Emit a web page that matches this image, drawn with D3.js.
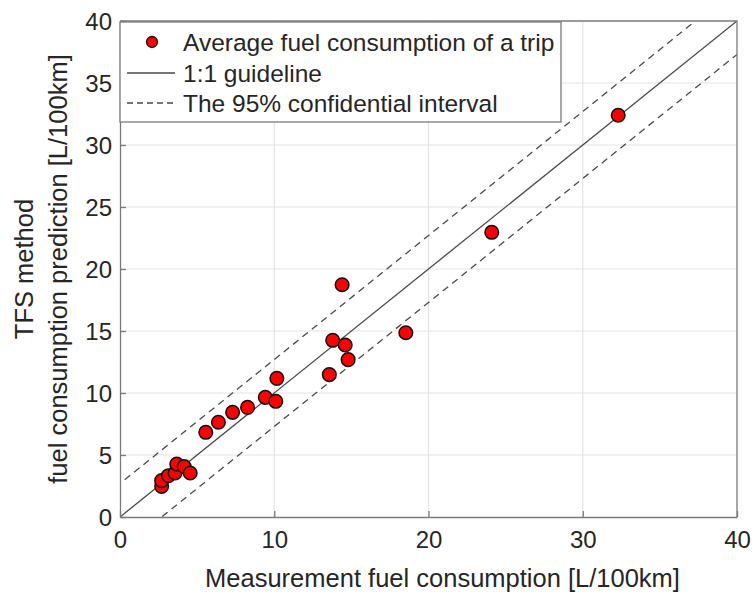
<!DOCTYPE html>
<html>
<head>
<meta charset="utf-8">
<script src="https://cdn.jsdelivr.net/npm/d3@7"></script>
<style>
  body { margin: 0; background: #fff; }
  text { font-family: 'Liberation Sans', Arial, sans-serif; fill: #262626; }
</style>
</head>
<body>
<svg id="viz"></svg>
<script>
const width = 756
const height = 593

// measured vs predicted fuel consumption per trip [L/100km]
const measured = [2.7, 2.7, 3.14, 3.57, 3.68, 4.16, 4.55, 5.56, 6.38, 7.3, 8.27, 9.42, 10.1, 10.17, 13.57, 13.79, 14.4, 14.6, 14.79, 18.53, 24.1, 32.3]
const predicted = [2.47, 2.93, 3.33, 3.55, 4.27, 4.06, 3.55, 6.83, 7.64, 8.44, 8.84, 9.65, 9.33, 11.18, 11.48, 14.25, 18.73, 13.87, 12.69, 14.86, 22.96, 32.4]
const xTicks = [0, 10, 20, 30, 40]
const yTicks = [0, 5, 10, 15, 20, 25, 30, 35, 40]
const ciOffset = 2.7
const legendLabels = ['Average fuel consumption of a trip', '1:1 guideline', 'The 95% confidential interval']

const margin = { top: 21, left: 120, right: 19, bottom: 76 }

const x = d3.scaleLinear().domain([0, 40]).range([margin.left, width - margin.right])
const y = d3.scaleLinear().domain([0, 40]).range([height - margin.bottom, margin.top])

const svg = d3.select('#viz').attr('width', width).attr('height', height)

svg.append('defs').append('clipPath').attr('id', 'clip')
  .append('rect')
  .attr('x', x(0)).attr('y', y(40))
  .attr('width', x(40) - x(0)).attr('height', y(0) - y(40))

// grid
const grid = svg.append('g').attr('class', 'grid')
grid.selectAll('.gx')
  .data(xTicks.slice(1, -1))
  .join('line')
  .attr('x1', (d) => x(d)).attr('x2', (d) => x(d))
  .attr('y1', y(0)).attr('y2', y(40))
  .attr('stroke', '#e3e3e3').attr('stroke-width', 1.2)
grid.selectAll('.gy')
  .data(yTicks.slice(1, -1))
  .join('line')
  .attr('y1', (d) => y(d)).attr('y2', (d) => y(d))
  .attr('x1', x(0)).attr('x2', x(40))
  .attr('stroke', '#e3e3e3').attr('stroke-width', 1.2)

// guide lines
const guides = svg.append('g').attr('clip-path', 'url(#clip)')
const lineData = [
  { off: 0, dash: null },
  { off: ciOffset, dash: '7,5' },
  { off: -ciOffset, dash: '7,5' }
]
guides.selectAll('line')
  .data(lineData)
  .join('line')
  .attr('x1', x(-10)).attr('y1', (d) => y(-10 + d.off))
  .attr('x2', x(50)).attr('y2', (d) => y(50 + d.off))
  .attr('stroke', '#4a4a4a')
  .attr('stroke-width', 1.3)
  .attr('stroke-dasharray', (d) => d.dash)

// points
svg.append('g')
  .selectAll('circle')
  .data(measured.map((m, i) => [m, predicted[i]]))
  .join('circle')
  .attr('cx', (d) => x(d[0]))
  .attr('cy', (d) => y(d[1]))
  .attr('r', 6.8)
  .attr('fill', '#ff0000')
  .attr('stroke', '#111')
  .attr('stroke-width', 1.5)

// axes
const axisColor = '#7a7a7a'
const xAxis = svg.append('g')
  .attr('transform', `translate(0, ${y(0)})`)
  .call(d3.axisBottom(x).tickValues(xTicks).tickSizeInner(-6).tickSizeOuter(0).tickPadding(14))
const yAxis = svg.append('g')
  .attr('transform', `translate(${x(0)}, 0)`)
  .call(d3.axisLeft(y).tickValues(yTicks).tickSizeInner(-6).tickSizeOuter(0).tickPadding(8))
;[xAxis, yAxis].forEach((a) => {
  a.select('.domain').attr('stroke', axisColor).attr('stroke-width', 1.3)
  a.selectAll('.tick line').attr('stroke', axisColor).attr('stroke-width', 1.3)
  a.selectAll('.tick text').attr('font-size', 24).attr('fill', '#262626')
    .style('font-family', "'Liberation Sans', Arial, sans-serif")
})
yAxis.selectAll('.tick text').attr('dy', '0.36em')

// top and right box edges
svg.append('path')
  .attr('d', `M${x(0)},${y(40)}H${x(40)}V${y(0)}`)
  .attr('fill', 'none').attr('stroke', axisColor).attr('stroke-width', 1.3)

// axis titles
svg.append('text')
  .attr('x', (x(0) + x(40)) / 2 + 14)
  .attr('y', 587)
  .attr('text-anchor', 'middle')
  .attr('font-size', 25.5)
  .text('Measurement fuel consumption [L/100km]')

const yMid = (y(0) + y(40)) / 2
const yTitle = svg.append('text')
  .attr('transform', `translate(0, ${yMid}) rotate(-90)`)
  .attr('text-anchor', 'middle')
  .attr('font-size', 25.5)
yTitle.append('tspan').attr('x', 0).attr('y', 33).text('TFS method')
yTitle.append('tspan').attr('x', 0).attr('y', 67).text('fuel consumption prediction [L/100km]')

// legend
const legend = svg.append('g')
legend.append('rect')
  .attr('x', x(0)).attr('y', y(40) + 1)
  .attr('width', 441).attr('height', 100)
  .attr('fill', '#fff')
  .attr('stroke', axisColor).attr('stroke-width', 1.3)

const rowY = [42, 73, 103]
const rows = legend.selectAll('.row')
  .data(legendLabels)
  .join('g')
  .attr('class', 'row')
  .attr('transform', (d, i) => `translate(0, ${rowY[i]})`)

rows.append('text')
  .attr('x', 183)
  .attr('dy', '0.36em')
  .attr('font-size', 24.5)
  .attr('fill', '#000')
  .text((d) => d)

rows.filter((d, i) => i === 0).append('circle')
  .attr('cx', 152).attr('cy', 0).attr('r', 5.5)
  .attr('fill', '#ff0000').attr('stroke', '#111').attr('stroke-width', 1.3)
rows.filter((d, i) => i > 0).append('line')
  .attr('x1', 127).attr('x2', 175)
  .attr('stroke', '#4a4a4a').attr('stroke-width', 1.3)
  .attr('stroke-dasharray', (d, i) => (i === 1 ? '6,4' : null))
</script>
</body>
</html>
